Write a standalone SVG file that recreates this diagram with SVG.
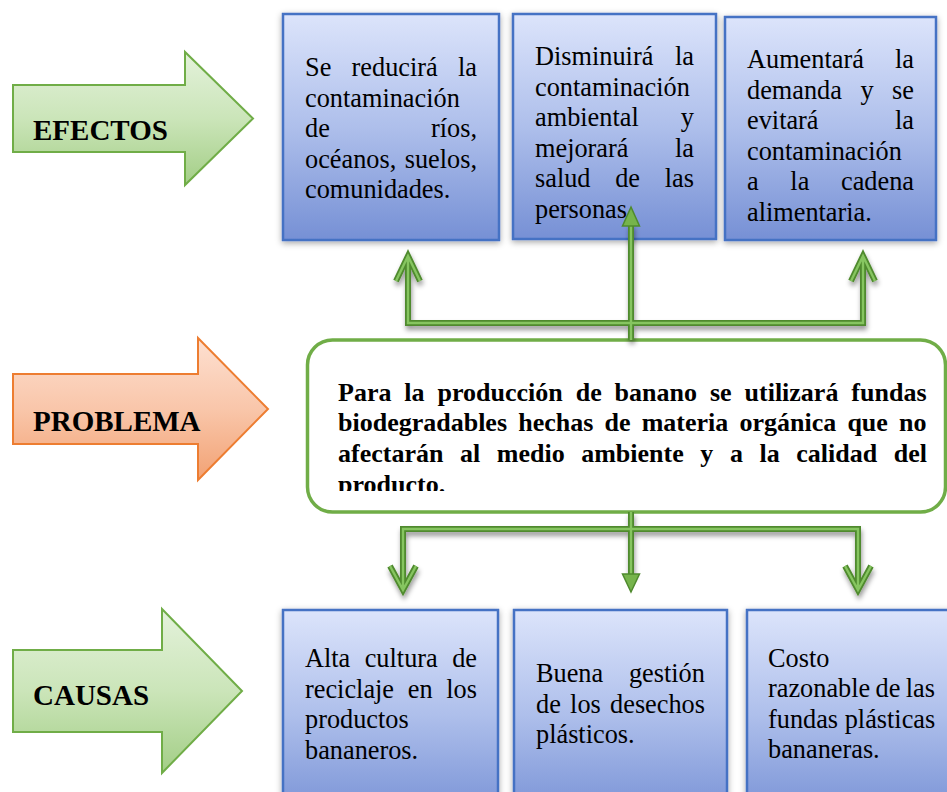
<svg xmlns="http://www.w3.org/2000/svg" width="947" height="792" viewBox="0 0 947 792">
<style>
.t{font-family:'Liberation Serif','Times New Roman',serif;font-size:26.3px;fill:#000}
.b{font-family:'Liberation Serif','Times New Roman',serif;font-size:26px;font-weight:bold;fill:#000}
.lbl{font-family:'Liberation Serif','Times New Roman',serif;font-size:29px;font-weight:bold;fill:#000}
.box{fill:url(#gBlue);stroke:#4472C4;stroke-width:2.5;filter:url(#shBox)}
.ga{fill:url(#gGreen);stroke:#70AD47;stroke-width:2;stroke-linejoin:miter}
.oa{fill:url(#gOrange);stroke:#ED7D31;stroke-width:2;stroke-linejoin:miter}
.cOut{fill:none;stroke:#4F8A2E;stroke-width:6;stroke-linejoin:miter;stroke-linecap:butt}
.cIn{fill:none;stroke:#86C560;stroke-width:2.4;stroke-linejoin:miter;stroke-linecap:butt}
.head{fill:#76B44C;stroke:#4F8A2E;stroke-width:1.5;stroke-linejoin:miter}
</style>
<defs>
<linearGradient id="gBlue" x1="0" y1="0" x2="0" y2="1">
<stop offset="0" stop-color="#DCE4FB"/>
<stop offset="0.5" stop-color="#AEBFEB"/>
<stop offset="1" stop-color="#7690D5"/>
</linearGradient>
<linearGradient id="gGreen" x1="0" y1="0" x2="0" y2="1">
<stop offset="0" stop-color="#E4F2DB"/>
<stop offset="0.5" stop-color="#CBE5B9"/>
<stop offset="1" stop-color="#A3CE86"/>
</linearGradient>
<linearGradient id="gOrange" x1="0" y1="0" x2="0" y2="1">
<stop offset="0" stop-color="#FDE0D1"/>
<stop offset="0.5" stop-color="#F9C6AA"/>
<stop offset="1" stop-color="#F2A274"/>
</linearGradient>
<filter id="shBox" x="-10%" y="-10%" width="120%" height="120%">
<feDropShadow dx="0" dy="2" stdDeviation="3" flood-color="#000" flood-opacity="0.35"/>
</filter>
<filter id="shLine" x="-10%" y="-20%" width="120%" height="160%">
<feDropShadow dx="1" dy="4" stdDeviation="2.5" flood-color="#000" flood-opacity="0.4"/>
</filter>
<clipPath id="clipMid">
<rect x="300" y="340" width="647" height="151"/>
</clipPath>
</defs>
<rect width="947" height="792" fill="#fff"/>

<g id="efectos">
<polygon class="ga" points="13,85 185,85 185,52 253,118.5 185,185 185,152 13,152"/>
<text class="lbl" x="33" y="140">EFECTOS</text>
</g>

<g id="problema">
<polygon class="oa" points="13,374 198,374 198,338 268,409 198,480 198,444 13,444"/>
<text class="lbl" x="33" y="431">PROBLEMA</text>
</g>

<g id="causas">
<polygon class="ga" points="13,650 162,650 162,609 242,691 162,773 162,732 13,732"/>
<text class="lbl" x="33" y="705">CAUSAS</text>
</g>

<g id="efecto1">
<rect class="box" x="283" y="14" width="216" height="226"/>
<text class="t" x="305" y="76" style="word-spacing:13.7px">Se reducirá la</text>
<text class="t" x="305" y="106.5">contaminación</text>
<text class="t" x="305" y="137" style="word-spacing:94.6px">de ríos,</text>
<text class="t" x="305" y="167.5" style="word-spacing:1.8px">océanos, suelos,</text>
<text class="t" x="305" y="198">comunidades.</text>
</g>

<g id="efecto2">
<rect class="box" x="513" y="14" width="203" height="225"/>
<text class="t" x="535" y="65" style="word-spacing:15.1px">Disminuirá la</text>
<text class="t" x="535" y="95.6">contaminación</text>
<text class="t" x="535" y="126.2" style="word-spacing:35.5px">ambiental y</text>
<text class="t" x="535" y="156.8" style="word-spacing:40px">mejorará la</text>
<text class="t" x="535" y="187.4" style="word-spacing:18.1px">salud de las</text>
<text class="t" x="535" y="218">personas</text>
</g>

<g id="efecto3">
<rect class="box" x="725" y="17" width="211" height="223"/>
<text class="t" x="747" y="68" style="word-spacing:24.6px">Aumentará la</text>
<text class="t" x="747" y="98.6" style="word-spacing:11.9px">demanda y se</text>
<text class="t" x="747" y="129.2" style="word-spacing:69.9px">evitará la</text>
<text class="t" x="747" y="159.8">contaminación</text>
<text class="t" x="747" y="190.4" style="word-spacing:25.1px">a la cadena</text>
<text class="t" x="747" y="221">alimentaria.</text>
</g>

<g id="problema-box">
<rect x="307.5" y="340" width="638" height="172" rx="25" ry="25" fill="#fff" stroke="#70AD47" stroke-width="3.5"/>
<g clip-path="url(#clipMid)">
<text class="b" x="338" y="400.7" style="word-spacing:6.44px">Para la producción de banano se utilizará fundas</text>
<text class="b" x="338" y="431.3" style="word-spacing:4.67px">biodegradables hechas de materia orgánica que no</text>
<text class="b" x="338" y="462" style="word-spacing:10.07px">afectarán al medio ambiente y a la calidad del</text>
<text class="b" x="338" y="492.7">producto.</text>
</g>
</g>

<g id="causa1">
<rect class="box" x="283" y="610" width="215" height="210"/>
<text class="t" x="305" y="667" style="word-spacing:7.85px">Alta cultura de</text>
<text class="t" x="305" y="697.5" style="word-spacing:7.1px">reciclaje en los</text>
<text class="t" x="305" y="728">productos</text>
<text class="t" x="305" y="758.5">bananeros.</text>
</g>

<g id="causa2">
<rect class="box" x="514" y="610" width="213" height="210"/>
<text class="t" x="536" y="682" style="word-spacing:19.2px">Buena gestión</text>
<text class="t" x="536" y="712.5" style="word-spacing:2.7px">de los desechos</text>
<text class="t" x="536" y="743">plásticos.</text>
</g>

<g id="causa3">
<rect class="box" x="747" y="610" width="215" height="210"/>
<text class="t" x="768" y="666.5">Costo</text>
<text class="t" x="768" y="697" style="word-spacing:-1.2px">razonable de las</text>
<text class="t" x="768" y="727.5">fundas plásticas</text>
<text class="t" x="768" y="758">bananeras.</text>
</g>

<g id="connectors">
<g filter="url(#shLine)">
<path class="cOut" d="M396,281 L408,256 L420,281 M408,258 L408,323 L863,323 L863,258 M851,281 L863,256 L875,281"/>
<path class="cOut" d="M631,340 L631,224"/>
<path class="cOut" d="M403,567 L403,529 L858,529 L858,567 M390,566 L403,590 L416,566 M845,566 L858,590 L871,566 M403,529 L403,588 M858,529 L858,588"/>
<path class="cOut" d="M631,512 L631,576"/>
</g>
<path class="cIn" d="M396,281 L408,256 L420,281 M408,258 L408,323 L863,323 L863,258 M851,281 L863,256 L875,281"/>
<path class="cIn" d="M631,340 L631,224"/>
<path class="cIn" d="M403,588 L403,529 L858,529 L858,588 M390,566 L403,590 L416,566 M845,566 L858,590 L871,566"/>
<path class="cIn" d="M631,512 L631,576"/>
<polygon class="head" points="631,207 639.5,226 622.5,226"/>
<polygon class="head" points="631,592 639.5,574 622.5,574"/>
</g>
</svg>
